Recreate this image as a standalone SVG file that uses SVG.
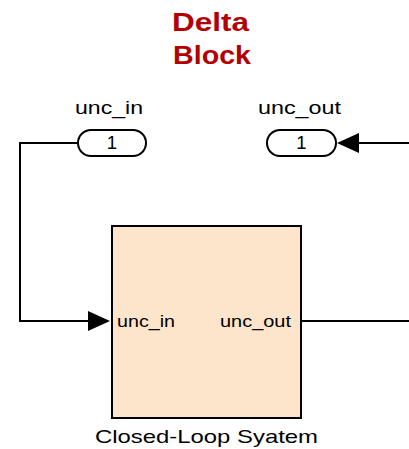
<svg xmlns="http://www.w3.org/2000/svg" width="409" height="449" viewBox="0 0 409 449">
<style>
text{font-family:"Liberation Sans",Arial,sans-serif;fill:#000}
.t{font-size:26px;font-weight:bold;fill:#b30000}
.l{font-size:18.5px}
.s{font-size:17px}
.c{font-size:19px}
.pill{fill:#fff;stroke:#000;stroke-width:2}
.w{fill:none;stroke:#000;stroke-width:2}
</style>
<g id="title">
<text class="t" x="172" y="31" textLength="77" lengthAdjust="spacingAndGlyphs">Delta</text>
<text class="t" x="173" y="64" textLength="78" lengthAdjust="spacingAndGlyphs">Block</text>
</g>
<g id="connectors">
<path class="w" d="M78,143 H20 V321 H89"/>
<path d="M88,311 L110,321 L88,331 Z" fill="#000"/>
<path class="w" d="M302,321 H409"/>
<path class="w" d="M409,143 H358"/>
<path d="M359,133 L337,143 L359,153 Z" fill="#000"/>
</g>
<g id="inport">
<text class="l" x="75" y="114" textLength="68" lengthAdjust="spacingAndGlyphs">unc_in</text>
<rect class="pill" x="78" y="130" width="68" height="26" rx="13"/>
<text class="l" x="112" y="148.5" text-anchor="middle">1</text>
</g>
<g id="outport">
<text class="l" x="258" y="114" textLength="83" lengthAdjust="spacingAndGlyphs">unc_out</text>
<rect class="pill" x="267" y="130" width="69" height="26" rx="13"/>
<text class="l" x="301.5" y="148.5" text-anchor="middle">1</text>
</g>
<g id="block">
<rect x="112" y="226" width="189" height="192" fill="#fde5cc" stroke="#000" stroke-width="2"/>
<text class="s" x="117" y="327" textLength="58" lengthAdjust="spacingAndGlyphs">unc_in</text>
<text class="s" x="220" y="327" textLength="71" lengthAdjust="spacingAndGlyphs">unc_out</text>
<text class="c" x="95" y="443" textLength="223" lengthAdjust="spacingAndGlyphs">Closed-Loop Syatem</text>
</g>
</svg>
